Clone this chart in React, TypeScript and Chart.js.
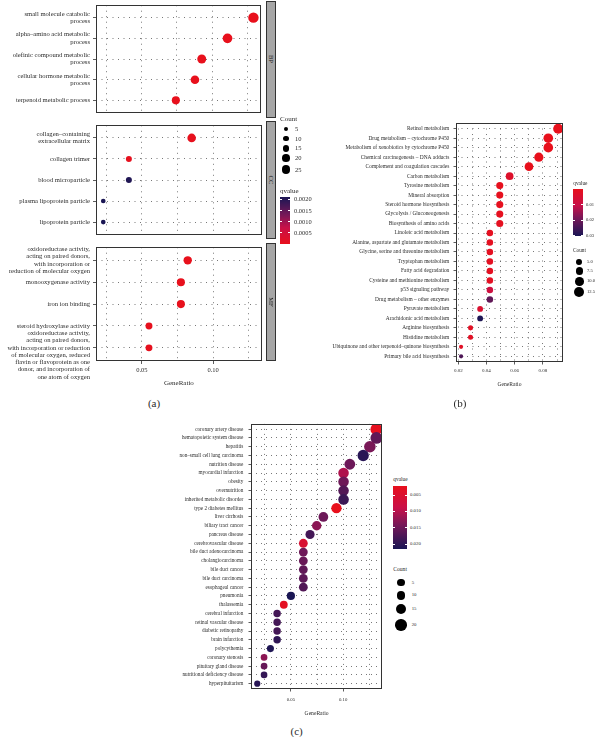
import React, { useEffect, useRef } from "react";
import { Chart, registerables } from "chart.js";

Chart.register(...registerables);

const SERIF = "'Liberation Serif', 'DejaVu Serif', serif";
const TEXT = "#2b2b2b";

// ---------------- Panel (a): GO enrichment (BP / CC / MF) ----------------
const bpTerms = [
  "small molecule catabolic\nprocess",
  "alpha–amino acid metabolic\nprocess",
  "olefinic compound metabolic\nprocess",
  "cellular hormone metabolic\nprocess",
  "terpenoid metabolic process",
];
const bpRatio = [0.129, 0.1107, 0.0925, 0.0877, 0.0742];
const bpCount = [37, 32, 27, 25, 22];
const bpQ = [2.1e-10, 4.3e-9, 1.2e-7, 2.8e-7, 3.1e-6];

const ccTerms = [
  "collagen–containing\nextracellular matrix",
  "collagen trimer",
  "blood microparticle",
  "plasma lipoprotein particle",
  "lipoprotein particle",
];
const ccRatio = [0.085, 0.0409, 0.0409, 0.0229, 0.0229];
const ccCount = [25, 12, 12, 7, 7];
const ccQ = [1.5e-5, 4.2e-5, 0.00207, 0.00212, 0.00212];

const mfTerms = [
  "oxidoreductase activity,\nacting on paired donors,\nwith incorporation or\nreduction of molecular oxygen",
  "monooxygenase activity",
  "iron ion binding",
  "steroid hydroxylase activity",
  "\n\noxidoreductase activity,\nacting on paired donors,\nwith incorporation or reduction\nof molecular oxygen, reduced\nflavin or flavoprotein as one\ndonor, and incorporation of\none atom of oxygen",
];
const mfRatio = [0.0822, 0.0774, 0.0774, 0.055, 0.055];
const mfCount = [24, 22, 22, 16, 16];
const mfQ = [2.4e-6, 5.1e-6, 5.1e-6, 4.0e-5, 4.0e-5];

const aFacets = ["BP", "CC", "MF"];
const aXTicks = [0.05, 0.1];
const aXGrid = [0.025, 0.05, 0.075, 0.1, 0.125];
const aQBreaks = [0.0005, 0.001, 0.0015, 0.002];
const aCountBreaks = [5, 10, 15, 20, 25];

// ---------------- Panel (b): KEGG ----------------
const keggTerms = [
  "Retinol metabolism",
  "Drug metabolism – cytochrome P450",
  "Metabolism of xenobiotics by cytochrome P450",
  "Chemical carcinogenesis – DNA adducts",
  "Complement and coagulation cascades",
  "Carbon metabolism",
  "Tyrosine metabolism",
  "Mineral absorption",
  "Steroid hormone biosynthesis",
  "Glycolysis / Gluconeogenesis",
  "Biosynthesis of amino acids",
  "Linoleic acid metabolism",
  "Alanine, aspartate and glutamate metabolism",
  "Glycine, serine and threonine metabolism",
  "Tryptophan metabolism",
  "Fatty acid degradation",
  "Cysteine and methionine metabolism",
  "p53 signaling pathway",
  "Drug metabolism – other enzymes",
  "Pyruvate metabolism",
  "Arachidonic acid metabolism",
  "Arginine biosynthesis",
  "Histidine metabolism",
  "Ubiquinone and other terpenoid–quinone biosynthesis",
  "Primary bile acid biosynthesis",
];
const keggRatio = [
  0.0908, 0.0838, 0.0838, 0.0771, 0.0701, 0.0564, 0.0494, 0.0494, 0.0494, 0.0494,
  0.0494, 0.0424, 0.0424, 0.0424, 0.0424, 0.0424, 0.0424, 0.0424, 0.0424, 0.0355,
  0.0355, 0.0287, 0.0287, 0.022, 0.022,
];
const keggCount = [13, 12, 12, 11, 10, 8, 7, 7, 7, 7, 7, 6, 6, 6, 6, 6, 6, 6, 6, 5, 5, 4, 4, 3, 3];
const keggQ = [
  2e-9, 8e-8, 8e-8, 6e-7, 4e-6, 0.0035, 0.0006, 0.0006, 0.0007, 0.0008,
  0.0009, 0.0011, 0.0013, 0.0013, 0.0014, 0.0014, 0.0016, 0.0085, 0.0215, 0.0048,
  0.0298, 0.0019, 0.0021, 0.0023, 0.0238,
];
const bXTicks = [0.02, 0.04, 0.06, 0.08];
const bXGrid = [0.02, 0.03, 0.04, 0.05, 0.06, 0.07, 0.08, 0.09];
const bQBreaks = [0.01, 0.02, 0.03];
const bCountBreaks = [5, 7.5, 10, 12.5];

// ---------------- Panel (c): Disease ontology ----------------
const doTerms = [
  "coronary artery disease",
  "hematopoietic system disease",
  "hepatitis",
  "non–small cell lung carcinoma",
  "nutrition disease",
  "myocardial infarction",
  "obesity",
  "overnutrition",
  "inherited metabolic disorder",
  "type 2 diabetes mellitus",
  "liver cirrhosis",
  "biliary tract cancer",
  "pancreas disease",
  "cerebrovascular disease",
  "bile duct adenocarcinoma",
  "cholangiocarcinoma",
  "bile duct cancer",
  "bile duct carcinoma",
  "esophageal cancer",
  "pneumonia",
  "thalassemia",
  "cerebral infarction",
  "retinal vascular disease",
  "diabetic retinopathy",
  "brain infarction",
  "polycythemia",
  "coronary stenosis",
  "pituitary gland disease",
  "nutritional deficiency disease",
  "hyperpituitarism",
];
const doRatio = [
  0.1318, 0.1318, 0.1256, 0.1192, 0.1064, 0.1004, 0.1004, 0.1004, 0.1004, 0.0936,
  0.0811, 0.0747, 0.0683, 0.0619, 0.0619, 0.0619, 0.0619, 0.0619, 0.0619, 0.05,
  0.0432, 0.0368, 0.0368, 0.0368, 0.0368, 0.0304, 0.0243, 0.0243, 0.0243, 0.0178,
];
const doCount = [21, 21, 20, 19, 17, 16, 16, 16, 16, 15, 13, 12, 11, 10, 10, 10, 10, 10, 10, 8, 7, 6, 6, 6, 6, 5, 4, 4, 4, 3];
const doQ = [
  0.0026, 0.016, 0.014, 0.0205, 0.015, 0.0105, 0.0148, 0.017, 0.019, 0.0021,
  0.015, 0.0128, 0.0182, 0.0055, 0.0148, 0.0152, 0.016, 0.0163, 0.0172, 0.0216,
  0.003, 0.0182, 0.0182, 0.0182, 0.0198, 0.0212, 0.0128, 0.0155, 0.0195, 0.0205,
];
const cXTicks = [0.05, 0.1];
const cXGrid = [0.025, 0.05, 0.075, 0.1, 0.125];
const cQBreaks = [0.005, 0.01, 0.015, 0.02];
const cCountBreaks = [5, 10, 15, 20];

// ---------------- styling helpers ----------------
const STOPS: [number, number[]][] = [
  [0, [232, 16, 28]],
  [0.35, [200, 16, 72]],
  [0.62, [118, 24, 88]],
  [1, [26, 22, 84]],
];
function ramp(t: number): string {
  const u = Math.max(0, Math.min(1, t));
  for (let i = 1; i < STOPS.length; i++) {
    const [t1, c1] = STOPS[i];
    const [t0, c0] = STOPS[i - 1];
    if (u <= t1) {
      const f = (u - t0) / (t1 - t0);
      const c = c0.map((v, k) => Math.round(v + (c1[k] - v) * f));
      return `rgb(${c[0]},${c[1]},${c[2]})`;
    }
  }
  const c = STOPS[STOPS.length - 1][1];
  return `rgb(${c[0]},${c[1]},${c[2]})`;
}
const qColor = (q: number, lo: number, hi: number) => ramp((q - lo) / (hi - lo));

const radiusA = (c: number) => Math.sqrt(0.375 + 0.725 * c);
const radiusB = (c: number) => Math.sqrt(2.1 * c - 2);
const radiusC = (c: number) => Math.sqrt(1.4 * c + 5.5);

const boxPlugin = {
  id: "panelBox",
  afterDraw(chart: any) {
    const { ctx, chartArea: a } = chart;
    ctx.save();
    ctx.strokeStyle = "#333";
    ctx.lineWidth = 1;
    ctx.setLineDash([]);
    const l = Math.round(a.left) + 0.5;
    const t = Math.round(a.top) + 0.5;
    const r = Math.round(a.right) - 0.5;
    const b = Math.round(a.bottom) - 0.5;
    ctx.strokeRect(l, t, r - l, b - t);
    ctx.restore();
  },
};

type PanelSpec = {
  left: number;
  top: number;
  labelW: number;
  plotW: number;
  plotH: number;
  padTop: number;
  axisH: number;
  labels: string[];
  ratio: number[];
  counts: number[];
  q: number[];
  qLo: number;
  qHi: number;
  xMin: number;
  xMax: number;
  xGrid: number[];
  xMajor: number[];
  labelSize: number;
  labelLH: number;
  tickSize: number;
  titleSize: number;
  yTickLen: number;
  yPad: number;
  xTickLen: number;
  xPad: number;
  showX: boolean;
  dash: number[];
  gridColor: string;
  radius: (c: number) => number;
};

function DotPanel({ s }: { s: PanelSpec }) {
  const ref = useRef<HTMLCanvasElement>(null);
  const W = s.labelW + s.plotW;
  const H = s.padTop + s.plotH + s.axisH;
  useEffect(() => {
    const n = s.labels.length;
    const isMajor = (v: number) => s.xMajor.some((m) => Math.abs(m - v) < 1e-9);
    const chart = new Chart(ref.current as HTMLCanvasElement, {
      type: "scatter",
      data: {
        datasets: [
          {
            data: s.ratio.map((r, i) => ({ x: r, y: i })),
            pointRadius: s.counts.map(s.radius),
            pointHoverRadius: s.counts.map(s.radius),
            pointBackgroundColor: s.q.map((v) => qColor(v, s.qLo, s.qHi)),
            pointBorderWidth: 0,
            pointBorderColor: "rgba(0,0,0,0)",
          },
        ],
      },
      options: {
        responsive: false,
        maintainAspectRatio: false,
        animation: false,
        devicePixelRatio: 1,
        events: [],
        layout: { padding: { top: s.padTop, left: 0, right: 0, bottom: 0 } },
        plugins: { legend: { display: false }, tooltip: { enabled: false } },
        scales: {
          x: {
            type: "linear",
            position: "bottom",
            min: s.xMin,
            max: s.xMax,
            afterBuildTicks: (sc: any) => {
              sc.ticks = s.xGrid.map((v) => ({ value: v }));
            },
            afterFit: (sc: any) => {
              sc.height = s.axisH;
              sc.paddingLeft = 0;
              sc.paddingRight = 0;
              sc.paddingTop = 0;
              sc.paddingBottom = 0;
            },
            ticks: {
              display: s.showX,
              autoSkip: false,
              maxRotation: 0,
              minRotation: 0,
              padding: s.xPad,
              color: TEXT,
              font: { family: SERIF, size: s.tickSize, lineHeight: 1.2 },
              callback: (v: any) => (isMajor(Number(v)) ? Number(v).toFixed(2) : ""),
            },
            grid: {
              color: s.gridColor,
              lineWidth: 0.8,
              drawTicks: s.showX,
              tickLength: s.xTickLen,
              tickWidth: 0.8,
              tickColor: (ctx: any) =>
                ctx.tick && isMajor(ctx.tick.value) ? "#333" : "rgba(0,0,0,0)",
            },
            border: { display: false, dash: s.dash },
            title: {
              display: s.showX,
              text: "GeneRatio",
              color: TEXT,
              font: { family: SERIF, size: s.titleSize, lineHeight: 1.2 },
              padding: { top: 0, bottom: 0 },
            },
          },
          y: {
            type: "linear",
            min: -0.6,
            max: n - 0.4,
            reverse: true,
            afterBuildTicks: (sc: any) => {
              sc.ticks = s.labels.map((_, i) => ({ value: i }));
            },
            afterFit: (sc: any) => {
              sc.width = s.labelW;
              sc.paddingTop = 0;
              sc.paddingBottom = 0;
              sc.paddingLeft = 0;
              sc.paddingRight = 0;
            },
            ticks: {
              autoSkip: false,
              padding: s.yPad,
              color: TEXT,
              font: { family: SERIF, size: s.labelSize, lineHeight: s.labelLH },
              callback: (_v: any, i: number) => s.labels[i].split("\n"),
            },
            grid: {
              color: s.gridColor,
              lineWidth: 0.8,
              drawTicks: true,
              tickLength: s.yTickLen,
              tickWidth: 0.8,
              tickColor: "#333",
            },
            border: { display: false, dash: s.dash },
          },
        },
      } as any,
      plugins: [boxPlugin],
    });
    return () => chart.destroy();
  }, []);
  return (
    <canvas
      ref={ref}
      width={W}
      height={H}
      style={{ position: "absolute", left: s.left, top: s.top, width: W, height: H }}
    />
  );
}

function Txt(props: {
  x: number;
  y: number;
  size: number;
  children: React.ReactNode;
  center?: boolean;
  color?: string;
  rotate?: boolean;
}) {
  const tf = props.rotate
    ? "translate(-50%,-50%) rotate(90deg)"
    : props.center
    ? "translate(-50%,-50%)"
    : "translate(0,-50%)";
  return (
    <div
      style={{
        position: "absolute",
        left: props.x,
        top: props.y,
        fontSize: props.size,
        lineHeight: 1,
        fontFamily: SERIF,
        color: props.color || TEXT,
        whiteSpace: "nowrap",
        transform: tf,
      }}
    >
      {props.children}
    </div>
  );
}

function ColorBar(p: {
  x: number;
  y: number;
  w: number;
  h: number;
  lo: number;
  hi: number;
  highOnTop: boolean;
  breaks: number[];
  digits: number;
  labelX: number;
  size: number;
  title: string;
  titleY: number;
  titleSize: number;
}) {
  const n = 20;
  const cols: string[] = [];
  for (let i = 0; i <= n; i++) {
    const f = i / n;
    cols.push(ramp(p.highOnTop ? 1 - f : f));
  }
  const posOf = (v: number) =>
    p.highOnTop ? p.y + ((p.hi - v) / (p.hi - p.lo)) * p.h : p.y + ((v - p.lo) / (p.hi - p.lo)) * p.h;
  return (
    <>
      <Txt x={p.x} y={p.titleY} size={p.titleSize}>
        {p.title}
      </Txt>
      <div
        style={{
          position: "absolute",
          left: p.x,
          top: p.y,
          width: p.w,
          height: p.h,
          background: `linear-gradient(to bottom, ${cols.join(",")})`,
        }}
      />
      {p.breaks.map((b) => {
        const yy = posOf(b);
        return (
          <React.Fragment key={b}>
            <div style={{ position: "absolute", left: p.x, top: yy - 0.4, width: 2, height: 0.8, background: "#fff" }} />
            <div style={{ position: "absolute", left: p.x + p.w - 2, top: yy - 0.4, width: 2, height: 0.8, background: "#fff" }} />
            <Txt x={p.labelX} y={yy} size={p.size}>
              {b.toFixed(p.digits)}
            </Txt>
          </React.Fragment>
        );
      })}
    </>
  );
}

function SizeLegend(p: {
  x: number;
  titleY: number;
  titleSize: number;
  cx: number;
  ys: number[];
  breaks: number[];
  radius: (c: number) => number;
  labelX: number;
  size: number;
  digits: number;
}) {
  return (
    <>
      <Txt x={p.x} y={p.titleY} size={p.titleSize}>
        Count
      </Txt>
      {p.breaks.map((b, i) => {
        const r = p.radius(b);
        return (
          <React.Fragment key={b}>
            <div
              style={{
                position: "absolute",
                left: p.cx - r,
                top: p.ys[i] - r,
                width: 2 * r,
                height: 2 * r,
                borderRadius: "50%",
                background: "#000",
              }}
            />
            <Txt x={p.labelX} y={p.ys[i]} size={p.size}>
              {b.toFixed(p.digits)}
            </Txt>
          </React.Fragment>
        );
      })}
    </>
  );
}

const commonA = {
  left: 0,
  labelW: 96,
  plotW: 170,
  xMin: 0.0178,
  xMax: 0.1342,
  xGrid: aXGrid,
  xMajor: aXTicks,
  labelSize: 6.6,
  labelLH: 1.1,
  tickSize: 6.5,
  titleSize: 7,
  yTickLen: 3,
  yPad: 3,
  xTickLen: 3,
  xPad: 2.1,
  dash: [1, 4.5],
  gridColor: "#555",
  radius: radiusA,
  qLo: 0,
  qHi: 0.00212,
};

const panelBP: PanelSpec = {
  ...commonA,
  top: 0,
  padTop: 1,
  plotH: 117,
  axisH: 0,
  showX: false,
  labels: bpTerms,
  ratio: bpRatio,
  counts: bpCount,
  q: bpQ,
};
const panelCC: PanelSpec = {
  ...commonA,
  top: 121,
  padTop: 0,
  plotH: 118,
  axisH: 0,
  showX: false,
  labels: ccTerms,
  ratio: ccRatio,
  counts: ccCount,
  q: ccQ,
};
const panelMF: PanelSpec = {
  ...commonA,
  top: 243,
  padTop: 0,
  plotH: 118,
  axisH: 26,
  showX: true,
  labels: mfTerms,
  ratio: mfRatio,
  counts: mfCount,
  q: mfQ,
};

const panelB: PanelSpec = {
  left: 300,
  top: 118,
  labelW: 156,
  plotW: 112,
  plotH: 244,
  padTop: 0,
  axisH: 26,
  labels: keggTerms,
  ratio: keggRatio,
  counts: keggCount,
  q: keggQ,
  qLo: 0,
  qHi: 0.0303,
  xMin: 0.0184,
  xMax: 0.0942,
  xGrid: bXGrid,
  xMajor: bXTicks,
  labelSize: 5.4,
  labelLH: 1.1,
  tickSize: 5,
  titleSize: 5.6,
  yTickLen: 2.5,
  yPad: 4.2,
  xTickLen: 2.5,
  xPad: 3.5,
  showX: true,
  dash: [1, 4.5],
  gridColor: "#555",
  radius: radiusB,
};

const panelC: PanelSpec = {
  left: 170,
  top: 418,
  labelW: 81,
  plotW: 137,
  plotH: 271,
  padTop: 0,
  axisH: 28,
  labels: doTerms,
  ratio: doRatio,
  counts: doCount,
  q: doQ,
  qLo: 0.0021,
  qHi: 0.0216,
  xMin: 0.0118,
  xMax: 0.1373,
  xGrid: cXGrid,
  xMajor: cXTicks,
  labelSize: 5.2,
  labelLH: 1.1,
  tickSize: 4.8,
  titleSize: 5.6,
  yTickLen: 2.5,
  yPad: 5.2,
  xTickLen: 2.5,
  xPad: 5.6,
  showX: true,
  dash: [1, 4],
  gridColor: "#555",
  radius: radiusC,
};

const facetRanges = [
  [0.5, 118],
  [121, 239],
  [243, 361],
];

export default function App() {
  return (
    <div
      style={{
        position: "absolute",
        left: 0,
        top: 0,
        width: 598,
        height: 737,
        background: "#fff",
        overflow: "hidden",
        fontFamily: SERIF,
      }}
    >
      <DotPanel s={panelBP} />
      <DotPanel s={panelCC} />
      <DotPanel s={panelMF} />
      {aFacets.map((f, i) => {
        const [y0, y1] = facetRanges[i];
        return (
          <React.Fragment key={f}>
            <div
              style={{
                position: "absolute",
                left: 265.5,
                top: y0,
                width: 10,
                height: y1 - y0,
                background: "#a6a6a6",
                border: "1px solid #333",
                boxSizing: "border-box",
              }}
            />
            <Txt x={270.5} y={(y0 + y1) / 2} size={6.6} rotate color="#1a1a1a">
              {f}
            </Txt>
          </React.Fragment>
        );
      })}
      <SizeLegend
        x={280}
        titleY={119}
        titleSize={7}
        cx={286}
        ys={[129.3, 138.7, 148.3, 158, 169.5]}
        breaks={aCountBreaks}
        radius={radiusA}
        labelX={295}
        size={6.5}
        digits={0}
      />
      <ColorBar
        x={280}
        y={196.7}
        w={10}
        h={47.3}
        lo={0}
        hi={0.00212}
        highOnTop={true}
        breaks={aQBreaks}
        digits={4}
        labelX={294}
        size={6.4}
        title="qvalue"
        titleY={190.7}
        titleSize={7}
      />
      <Txt x={154} y={403} size={11} center>
        (a)
      </Txt>

      <DotPanel s={panelB} />
      <ColorBar
        x={573.3}
        y={189}
        w={9.4}
        h={47}
        lo={0}
        hi={0.0303}
        highOnTop={false}
        breaks={bQBreaks}
        digits={2}
        labelX={586}
        size={4.6}
        title="qvalue"
        titleY={183.7}
        titleSize={5.3}
      />
      <SizeLegend
        x={573}
        titleY={251.3}
        titleSize={5.3}
        cx={579.3}
        ys={[262, 271, 281.3, 292.3]}
        breaks={bCountBreaks}
        radius={radiusB}
        labelX={587}
        size={4.6}
        digits={1}
      />
      <Txt x={460} y={402.7} size={11} center>
        (b)
      </Txt>

      <DotPanel s={panelC} />
      <ColorBar
        x={393.3}
        y={485.7}
        w={13.4}
        h={63.6}
        lo={0.0021}
        hi={0.0216}
        highOnTop={false}
        breaks={cQBreaks}
        digits={3}
        labelX={410}
        size={4.8}
        title="qvalue"
        titleY={480}
        titleSize={5.4}
      />
      <SizeLegend
        x={393.3}
        titleY={570}
        titleSize={5.6}
        cx={401}
        ys={[582.7, 595.3, 609.3, 625]}
        breaks={cCountBreaks}
        radius={radiusC}
        labelX={411.7}
        size={4.8}
        digits={0}
      />
      <Txt x={296.7} y={730.7} size={11} center>
        (c)
      </Txt>
    </div>
  );
}
